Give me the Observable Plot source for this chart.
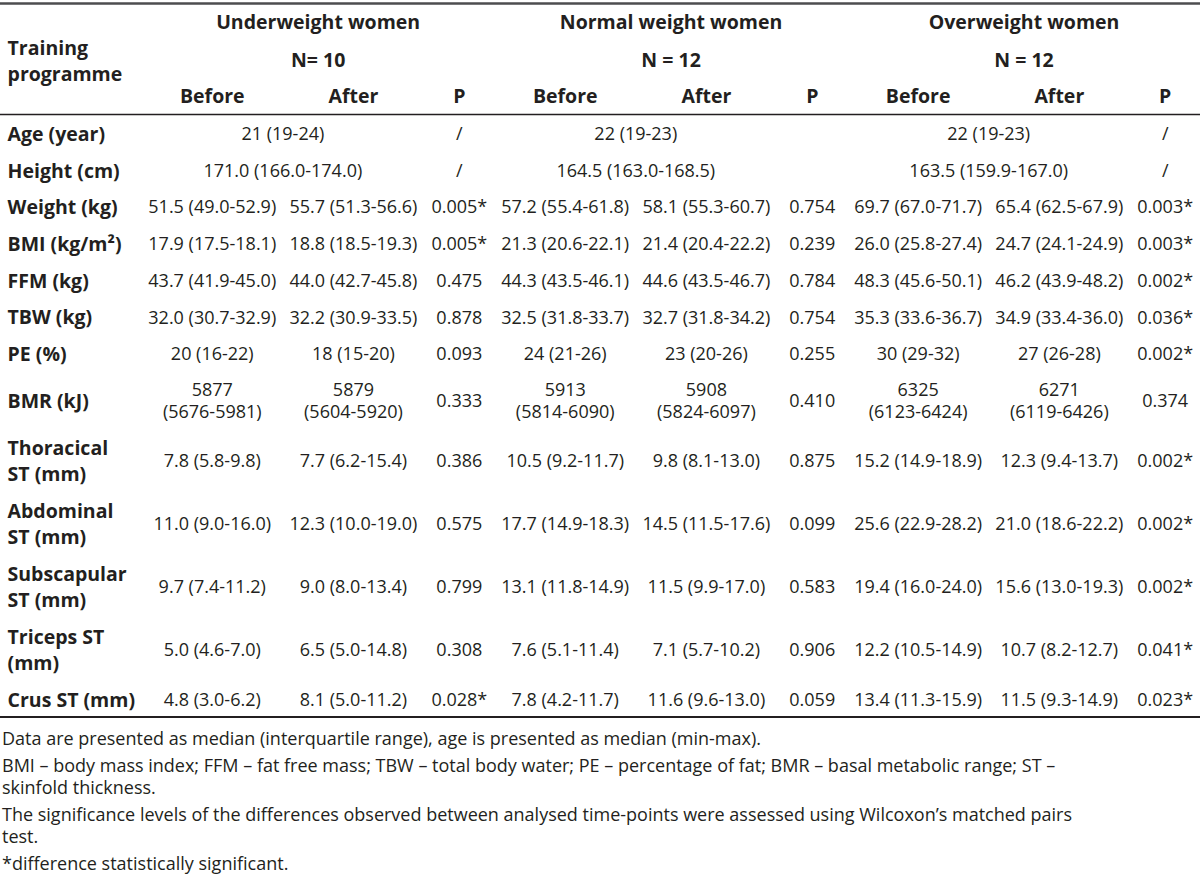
<!DOCTYPE html>
<html>
<head>
<meta charset="utf-8">
<script src="https://cdn.jsdelivr.net/npm/d3@7"></script>
<script src="https://cdn.jsdelivr.net/npm/@observablehq/plot@0.6"></script>
<style>
  body { margin: 0; background: #fff; }
  #chart svg { display: block; }
  #notes { font-family: "Open Sans", sans-serif; font-size: 18px; color: #231f20; line-height: 22.5px; padding: 6px 0 0 2px; white-space: nowrap; }
  #notes p { margin: 0 0 4px 0; }
</style>
</head>
<body>
<div id="chart"></div>
<div id="notes"></div>
<script>
// ---------------- data ----------------
const stubTitle = "Training\nprogramme";
const groups = ["Underweight women", "Normal weight women", "Overweight women"];
const groupN = ["N= 10", "N = 12", "N = 12"];
const subCols = ["Before", "After", "P"];
const rowLabels = ["Age (year)", "Height (cm)", "Weight (kg)", "BMI (kg/m²)", "FFM (kg)", "TBW (kg)", "PE (%)", "BMR (kJ)",
  "Thoracical\nST (mm)", "Abdominal\nST (mm)", "Subscapular\nST (mm)", "Triceps ST\n(mm)", "Crus ST (mm)"];
// rows whose "Before" value spans Before + After (median (min-max))
const spanRows = ["Age (year)", "Height (cm)"];

const underBefore = ["21 (19-24)", "171.0 (166.0-174.0)", "51.5 (49.0-52.9)", "17.9 (17.5-18.1)", "43.7 (41.9-45.0)", "32.0 (30.7-32.9)", "20 (16-22)", "5877\n(5676-5981)", "7.8 (5.8-9.8)", "11.0 (9.0-16.0)", "9.7 (7.4-11.2)", "5.0 (4.6-7.0)", "4.8 (3.0-6.2)"];
const underAfter = [null, null, "55.7 (51.3-56.6)", "18.8 (18.5-19.3)", "44.0 (42.7-45.8)", "32.2 (30.9-33.5)", "18 (15-20)", "5879\n(5604-5920)", "7.7 (6.2-15.4)", "12.3 (10.0-19.0)", "9.0 (8.0-13.4)", "6.5 (5.0-14.8)", "8.1 (5.0-11.2)"];
const underP = ["/", "/", "0.005*", "0.005*", "0.475", "0.878", "0.093", "0.333", "0.386", "0.575", "0.799", "0.308", "0.028*"];

const normalBefore = ["22 (19-23)", "164.5 (163.0-168.5)", "57.2 (55.4-61.8)", "21.3 (20.6-22.1)", "44.3 (43.5-46.1)", "32.5 (31.8-33.7)", "24 (21-26)", "5913\n(5814-6090)", "10.5 (9.2-11.7)", "17.7 (14.9-18.3)", "13.1 (11.8-14.9)", "7.6 (5.1-11.4)", "7.8 (4.2-11.7)"];
const normalAfter = [null, null, "58.1 (55.3-60.7)", "21.4 (20.4-22.2)", "44.6 (43.5-46.7)", "32.7 (31.8-34.2)", "23 (20-26)", "5908\n(5824-6097)", "9.8 (8.1-13.0)", "14.5 (11.5-17.6)", "11.5 (9.9-17.0)", "7.1 (5.7-10.2)", "11.6 (9.6-13.0)"];
const normalP = ["", "", "0.754", "0.239", "0.784", "0.754", "0.255", "0.410", "0.875", "0.099", "0.583", "0.906", "0.059"];

const overBefore = ["22 (19-23)", "163.5 (159.9-167.0)", "69.7 (67.0-71.7)", "26.0 (25.8-27.4)", "48.3 (45.6-50.1)", "35.3 (33.6-36.7)", "30 (29-32)", "6325\n(6123-6424)", "15.2 (14.9-18.9)", "25.6 (22.9-28.2)", "19.4 (16.0-24.0)", "12.2 (10.5-14.9)", "13.4 (11.3-15.9)"];
const overAfter = [null, null, "65.4 (62.5-67.9)", "24.7 (24.1-24.9)", "46.2 (43.9-48.2)", "34.9 (33.4-36.0)", "27 (26-28)", "6271\n(6119-6426)", "12.3 (9.4-13.7)", "21.0 (18.6-22.2)", "15.6 (13.0-19.3)", "10.7 (8.2-12.7)", "11.5 (9.3-14.9)"];
const overP = ["/", "/", "0.003*", "0.003*", "0.002*", "0.036*", "0.002*", "0.374", "0.002*", "0.002*", "0.002*", "0.041*", "0.023*"];

const notes = [
  "Data are presented as median (interquartile range), age is presented as median (min-max).",
  "BMI – body mass index; FFM – fat free mass; TBW – total body water; PE – percentage of fat; BMR – basal metabolic range; ST –<br>skinfold thickness.",
  "The significance levels of the differences observed between analysed time-points were assessed using Wilcoxon’s matched pairs<br>test.",
  "*difference statistically significant."
];

// ---------------- layout (table geometry in layout units) ----------------
const columns = [[underBefore, underAfter, underP], [normalBefore, normalAfter, normalP], [overBefore, overAfter, overP]];
const stubUnits = 2, subUnits = {Before: 2, After: 2, P: 1};
const groupUnits = subCols.reduce((s, c) => s + subUnits[c], 0);
const totalUnits = stubUnits + groups.length * groupUnits;
function colStart(g, c) {
  let u = stubUnits + g * groupUnits;
  for (const k of subCols) { if (k === c) break; u += subUnits[k]; }
  return u;
}
const colCenter = (g, c) => colStart(g, c) + subUnits[c] / 2;
const groupCenter = g => stubUnits + g * groupUnits + groupUnits / 2;
const spanCenter = g => stubUnits + g * groupUnits + (subUnits.Before + subUnits.After) / 2;

// vertical layout (px units through the y scale)
const headerTop = 3, headerBottom = 114;
const headerLines = {group: 22, n: 60, sub: 96, stub: 59};
const rowHeight = label => label === "BMR (kJ)" ? 57 : (label.includes("\n") ? 63 : 36.7);
const rowCenters = [];
{
  let y = headerBottom;
  for (const l of rowLabels) { const h = rowHeight(l); rowCenters.push(y + h / 2); y += h; }
  var tableBottom = y;
}
const H = Math.ceil(tableBottom + 4);

// ---------------- build cells ----------------
const cells = [];
rowLabels.forEach((label, i) => {
  columns.forEach((cols, g) => {
    const span = spanRows.includes(label);
    subCols.forEach((c, k) => {
      const v = cols[k][i];
      if (v == null || v === "") return;
      cells.push({x: span && c === "Before" ? spanCenter(g) : colCenter(g, c), y: rowCenters[i], text: v});
    });
  });
});
const stub = rowLabels.map((l, i) => ({x: 0.1, y: rowCenters[i], text: l}));
const groupHeads = groups.map((t, g) => ({x: groupCenter(g), y: headerLines.group, text: t}));
const nHeads = groupN.map((t, g) => ({x: groupCenter(g), y: headerLines.n, text: t}));
const subHeads = groups.flatMap((_, g) => subCols.map(c => ({x: colCenter(g, c), y: headerLines.sub, text: c})));

const ink = "#231f20";
const boldSize = 19.5;
const chart = Plot.plot({
  width: 1200,
  height: H,
  margin: 0,
  style: {fontFamily: "'Open Sans', sans-serif", background: "#fff"},
  x: {domain: [0, totalUnits], range: [0, 1200], axis: null},
  y: {domain: [0, H], range: [0, H], axis: null},
  marks: [
    Plot.ruleY([headerTop], {x1: 0, x2: totalUnits, stroke: "#4d4d4f", strokeWidth: 2.5}),
    Plot.ruleY([headerBottom], {x1: 0, x2: totalUnits, stroke: "#231f20", strokeWidth: 1.5}),
    Plot.ruleY([tableBottom], {x1: 0, x2: totalUnits, stroke: "#231f20", strokeWidth: 2}),
    Plot.text([{x: 0.1, y: headerLines.stub, text: stubTitle}], {x: "x", y: "y", text: "text", textAnchor: "start", fontSize: boldSize, fontWeight: "bold", lineHeight: 1.33, fill: ink}),
    Plot.text(groupHeads, {x: "x", y: "y", text: "text", fontSize: boldSize, fontWeight: "bold", fill: ink}),
    Plot.text(nHeads, {x: "x", y: "y", text: "text", fontSize: boldSize, fontWeight: "bold", fill: ink}),
    Plot.text(subHeads, {x: "x", y: "y", text: "text", fontSize: boldSize, fontWeight: "bold", fill: ink}),
    Plot.text(stub, {x: "x", y: "y", text: "text", textAnchor: "start", fontSize: boldSize, fontWeight: "bold", lineHeight: 1.3, fill: ink}),
    Plot.text(cells, {x: "x", y: "y", text: "text", fontSize: 18, lineHeight: 1.25, fill: ink})
  ]
});
document.getElementById("chart").append(chart);
document.getElementById("notes").innerHTML = notes.map(n => `<p>${n}</p>`).join("");
</script>
</body>
</html>
